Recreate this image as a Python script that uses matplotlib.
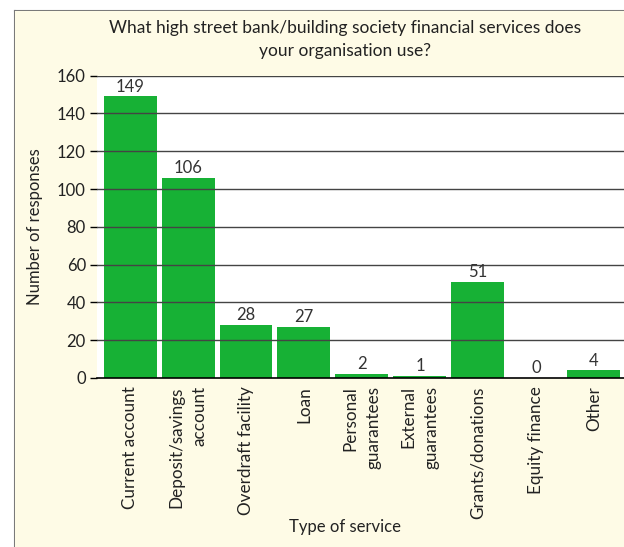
import matplotlib.pyplot as plt
from matplotlib.patches import Rectangle

plt.rcParams['font.family'] = ['Lato', 'DejaVu Sans']

services = ['Current account', 'Deposit/savings\naccount', 'Overdraft facility', 'Loan',
            'Personal\nguarantees', 'External\nguarantees', 'Grants/donations',
            'Equity finance', 'Other']
responses = [149, 106, 28, 27, 2, 1, 51, 0, 4]
yticks = [0, 20, 40, 60, 80, 100, 120, 140, 160]

green = '#17b135'
cream = '#fefbe6'

fig = plt.figure(figsize=(6.24, 5.47), dpi=100, facecolor='white')

# cream panel with grey border on top and left
W, H = 624, 547
panel = Rectangle((15 / W, 0), 1, 1 - 11 / H, transform=fig.transFigure,
                  facecolor=cream, edgecolor='none', zorder=-1)
fig.patches.append(panel)
fig.add_artist(plt.Line2D([15 / W, 15 / W], [0, 1 - 11 / H], color='#7a7a7a', lw=1.5,
                          transform=fig.transFigure, zorder=-1))
fig.add_artist(plt.Line2D([15 / W, 1], [1 - 11 / H, 1 - 11 / H], color='#7a7a7a', lw=1.5,
                          transform=fig.transFigure, zorder=-1))

ax = fig.add_axes([97 / W, (547 - 378) / H, (624 - 97) / W, (378 - 75.7) / H])
ax.set_zorder(2)
ax.set_facecolor('white')

x = range(len(services))
ax.bar(x, responses, width=0.914, color=green, zorder=2)
for xi, v in zip(x, responses):
    ax.text(xi, v + 1, str(v), ha='center', va='bottom', fontsize=12, color='#333333', zorder=4)

ax.set_xlim(-0.57, 8.52)
ax.set_ylim(0, 160)
ax.set_yticks(yticks)
ax.tick_params(axis='y', length=5, width=1, labelsize=12, labelcolor='#222222', pad=3)
ax.tick_params(axis='x', length=0, pad=6)
ax.set_xticks(list(x))
ax.set_xticklabels(services, rotation=90, fontsize=12.3, color='#222222',
                   va='top', ha='center', multialignment='right', linespacing=1.6)

for y in yticks[1:]:
    ax.axhline(y, color='#444444', lw=1, zorder=3)

for s in ['left', 'right', 'top']:
    ax.spines[s].set_visible(False)
ax.spines['bottom'].set_linewidth(1.2)
ax.spines['bottom'].set_zorder(5)

ax.set_ylabel('Number of responses', fontsize=12, color='#222222', labelpad=10)
ax.set_xlabel('Type of service', fontsize=12, color='#222222')
ax.xaxis.set_label_coords((345 - 97) / (624 - 97), -(527 - 378) / (378 - 75.7))
ax.xaxis.label.set_va('center')

fig.text(345 / W, 1 - 28 / H, 'What high street bank/building society financial services does',
         ha='center', va='center', fontsize=12.5, color='#222222')
fig.text(345 / W, 1 - 51 / H, 'your organisation use?',
         ha='center', va='center', fontsize=12.5, color='#222222')

fig.savefig('out.png', dpi=100, facecolor='white')
